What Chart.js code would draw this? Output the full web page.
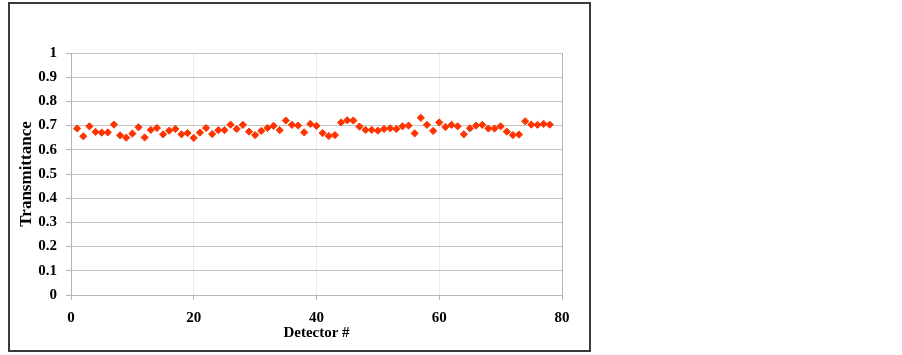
<!DOCTYPE html>
<html>
<head>
<meta charset="utf-8">
<script src="https://cdn.jsdelivr.net/npm/chart.js@4.4.1/dist/chart.umd.min.js"></script>
<style>
  html, body { margin: 0; padding: 0; background: #fff; }
  #wrap { position: relative; width: 902px; height: 355px; }
  #chart { position: absolute; left: 0; top: 0; }
  #frame {
    position: absolute; left: 8px; top: 2px; width: 583px; height: 350px;
    box-sizing: border-box; border: 2px solid #3a3a3a; pointer-events: none;
  }
</style>
</head>
<body>
<div id="wrap">
  <canvas id="chart" width="902" height="355"></canvas>
  <div id="frame"></div>
</div>
<script>
// detector number and transmittance
const detectors = [
  1, 2, 3, 4, 5, 6, 7, 8, 9, 10, 11, 12, 13, 14, 15, 16, 17, 18, 19, 20,
  21, 22, 23, 24, 25, 26, 27, 28, 29, 30, 31, 32, 33, 34, 35, 36, 37, 38, 39, 40,
  41, 42, 43, 44, 45, 46, 47, 48, 49, 50, 51, 52, 53, 54, 55, 56, 57, 58, 59, 60,
  61, 62, 63, 64, 65, 66, 67, 68, 69, 70, 71, 72, 73, 74, 75, 76, 77, 78
];
const transmittance = [
  0.688, 0.656, 0.697, 0.674, 0.671, 0.672, 0.704, 0.660, 0.650, 0.667,
  0.693, 0.651, 0.682, 0.690, 0.664, 0.679, 0.686, 0.664, 0.669, 0.649,
  0.671, 0.690, 0.665, 0.681, 0.681, 0.704, 0.686, 0.703, 0.675, 0.661,
  0.678, 0.690, 0.699, 0.681, 0.721, 0.703, 0.700, 0.672, 0.707, 0.699,
  0.669, 0.657, 0.661, 0.713, 0.722, 0.721, 0.696, 0.682, 0.682, 0.679,
  0.686, 0.689, 0.686, 0.697, 0.700, 0.668, 0.732, 0.703, 0.678, 0.713,
  0.694, 0.703, 0.697, 0.664, 0.689, 0.700, 0.703, 0.688, 0.688, 0.697,
  0.675, 0.661, 0.663, 0.718, 0.704, 0.703, 0.707, 0.704
];

const points = detectors.map((d, i) => ({ x: d, y: transmittance[i] }));
const serif = '"Liberation Serif", "Times New Roman", serif';
const axisFont = { family: serif, size: 15, weight: 'bold' };

new Chart(document.getElementById('chart'), {
  type: 'scatter',
  data: {
    datasets: [{
      data: points,
      pointStyle: 'rectRot',
      pointRadius: 3.6,
      pointBorderWidth: 1,
      backgroundColor: '#ff3300',
      borderColor: '#ff3300'
    }]
  },
  options: {
    responsive: false,
    animation: false,
    layout: { padding: { left: 0, top: 53, right: 340, bottom: 0 } },
    plugins: { legend: { display: false }, tooltip: { enabled: false } },
    scales: {
      x: {
        type: 'linear',
        min: 0,
        max: 80,
        afterFit: s => { s.height = 60; },
        ticks: { stepSize: 20, color: '#000', font: axisFont, padding: 9 },
        grid: {
          color: c => (c.tick && c.tick.value === 80) ? '#b5b5b5' : '#ebebeb',
          tickColor: '#b5b5b5',
          tickLength: 5
        },
        border: { color: '#b5b5b5' },
        title: { display: true, text: 'Detector #', color: '#000', font: axisFont, padding: { top: 0, bottom: 13 } }
      },
      y: {
        min: 0,
        max: 1,
        afterFit: s => { s.width = 71; },
        ticks: {
          stepSize: 0.1,
          color: '#000',
          font: axisFont,
          padding: 9,
          callback: v => String(+v.toFixed(1))
        },
        grid: { color: '#c4c4c4', tickColor: '#b5b5b5', tickLength: 5 },
        border: { color: '#b5b5b5' },
        title: {
          display: true,
          text: 'Transmittance',
          color: '#000',
          font: { family: serif, size: 17, weight: 'bold' },
          padding: { top: 16, bottom: 0 }
        }
      }
    }
  }
});
</script>
</body>
</html>
